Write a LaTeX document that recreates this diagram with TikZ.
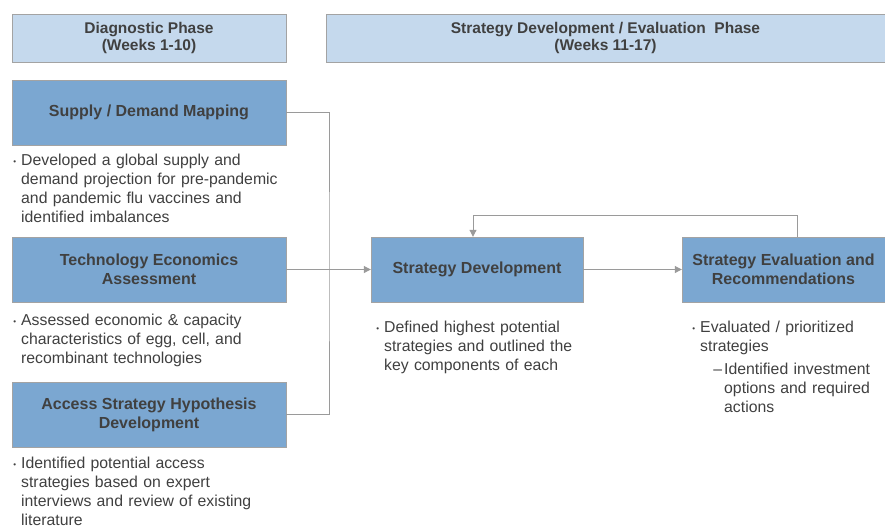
\documentclass[tikz,border=0pt]{standalone}
\usepackage{fontspec}
\setmainfont{Liberation Sans}
\usetikzlibrary{arrows.meta}
\definecolor{hdrfill}{HTML}{C5D9ED}
\definecolor{boxfill}{HTML}{7BA7D1}
\definecolor{boxline}{HTML}{A3A3A3}
\definecolor{txtgray}{HTML}{404040}
\definecolor{linkgray}{HTML}{9A9A9A}
\newcommand{\bulpt}{\llap{\raisebox{1.5pt}{\footnotesize\textbullet}\hspace{5pt}}}
\newcommand{\dashpt}{\llap{--\hspace{2pt}}}
\begin{document}
\begin{tikzpicture}[x=1pt, y=-1pt,
  phase/.style={draw=boxline, fill=hdrfill, text=txtgray, align=center, inner sep=0pt,
    font=\fontsize{15.5}{17}\selectfont\bfseries},
  step box/.style={draw=boxline, fill=boxfill, text=txtgray, align=center, inner sep=0pt,
    minimum height=65, font=\fontsize{16}{19}\selectfont\bfseries},
  notes/.style={anchor=north west, inner sep=0pt, text=txtgray, text width=320, align=left,
    font=\fontsize{15.8}{19}\selectfont},
  link/.style={draw=linkgray, line width=1pt},
  linkarrow/.style={link, -{Triangle[width=7pt,length=7pt]}}]
\useasboundingbox (0,0) rectangle (885,525);

\node[phase, minimum width=274, minimum height=48] (diag) at (149,38) {Diagnostic Phase\\(Weeks 1-10)};
\node[phase, minimum width=559, minimum height=48] (evalphase) at (605.5,38) {Strategy Development / Evaluation\ \ Phase\\(Weeks 11-17)};

\node[step box, minimum width=274] (supply) at (149,112.5) {Supply / Demand Mapping};
\node[step box, minimum width=274] (tech) at (149,269.5) {Technology Economics\\Assessment};
\node[step box, minimum width=274] (access) at (149,414.5) {Access Strategy Hypothesis\\Development};
\node[step box, minimum width=212] (stratdev) at (477,269.5) {Strategy Development};
\node[step box, minimum width=203] (stratev) at (783.5,269.5) {Strategy Evaluation and\\Recommendations};

\node[notes] (supplynote) at (21,154) {\bulpt Developed a global supply and\\demand projection for pre-pandemic\\and pandemic flu vaccines and\\identified imbalances};
\node[notes] (technote) at (21,314) {\bulpt Assessed economic \& capacity\\characteristics of egg, cell, and\\recombinant technologies};
\node[notes] (accessnote) at (21,457) {\bulpt Identified potential access\\strategies based on expert\\interviews and review of existing\\literature};
\node[notes] (stratdevnote) at (384,321) {\bulpt Defined highest potential\\strategies and outlined the\\key components of each};
\node[notes] (stratevnote) at (700,321) {\bulpt Evaluated / prioritized\\strategies};
\node[notes] (stratevsub) at (724,363) {\dashpt Identified investment\\options and required\\actions};

% links
\coordinate (bus) at (329,269.5);
\draw[link] (supply.east) -| (bus) |- (access.east);
\draw[linkarrow] (tech.east) -- (stratdev.west);
\draw[linkarrow] (stratdev.east) -- (stratev.west);
\draw[linkarrow] ([xshift=13.5]stratev.north) -- ++(0,-21) -| ([xshift=-4]stratdev.north);
\end{tikzpicture}
\end{document}
